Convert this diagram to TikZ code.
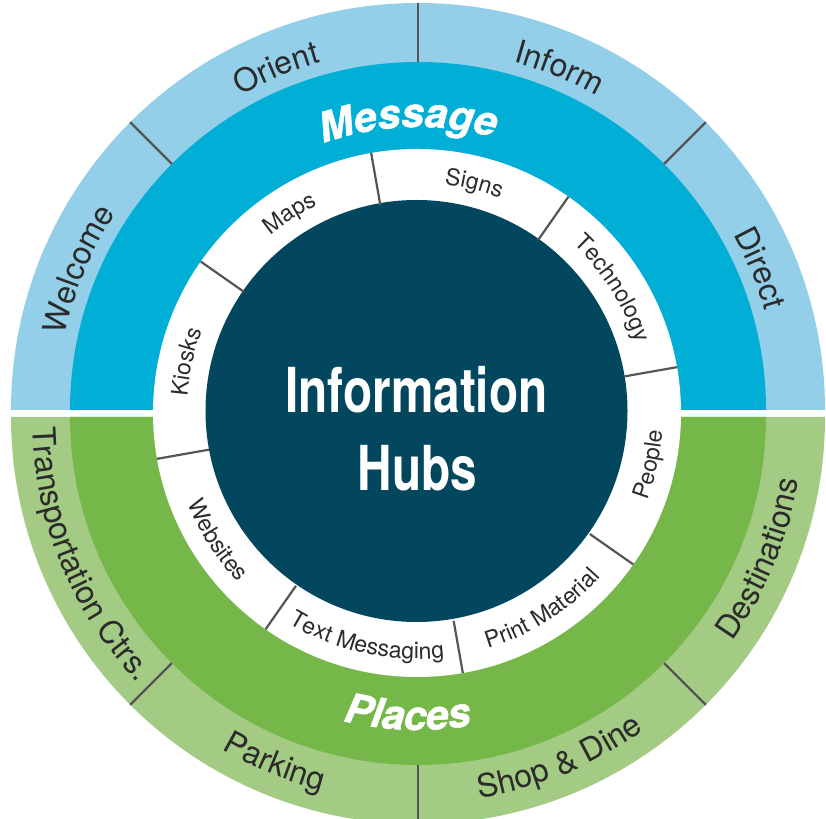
\documentclass[tikz,border=0pt]{standalone}
\usepackage{fontspec}
\setmainfont{TeX Gyre Heros}
\newfontfamily\herosfam{TeX Gyre Heros}
\newfontfamily\herosheavy[FakeBold=1.2]{TeX Gyre Heros}
\newfontfamily\heroscnfam[FakeStretch=0.77]{TeX Gyre Heros}
\usetikzlibrary{decorations.text}
\definecolor{lblue}{HTML}{93CFE8}
\definecolor{mblue}{HTML}{00AED6}
\definecolor{lgreen}{HTML}{A3CB84}
\definecolor{mgreen}{HTML}{76B74A}
\definecolor{navy}{HTML}{02475E}
\definecolor{divcol}{HTML}{555555}
\definecolor{txtcol}{HTML}{2B2B2B}
\newcommand\outerlabfont{\herosfam\fontsize{32}{32}\selectfont\color{txtcol}}
\newcommand\innerlabfont{\herosfam\fontsize{23}{23}\selectfont\color{txtcol}}
\newcommand\ringlabfont{\herosheavy\bfseries\itshape\fontsize{41}{41}\selectfont\color{white}}
\newcommand\hubfont{\heroscnfam\bfseries\fontsize{62}{62}\selectfont}
\tikzset{
  divline/.style={draw=divcol, line width=2.2pt},
  hubtext/.style={text=white, font=\hubfont, inner sep=0pt, anchor=base},
  curvetext/.style={decorate, decoration={text along path, text align=center, text={#1}}}
}
\begin{document}
\begin{tikzpicture}[x=1pt,y=1pt]
\useasboundingbox (0,0) rectangle (826,818);
\clip (0,0) rectangle (826,818);
\coordinate (ct) at (418,408);
\coordinate (cb) at (418,401);
\coordinate (ci) at (417,405);
\coordinate (cn) at (416.5,407);
% top half
\fill[lblue] ([shift={(0:407)}]ct) arc[start angle=0,end angle=180,radius=407] -- cycle;
\fill[mblue] ([shift={(0:348)}]ct) arc[start angle=0,end angle=180,radius=348] -- cycle;
% bottom half
\fill[lgreen] ([shift={(180:407)}]cb) arc[start angle=180,end angle=360,radius=407] -- cycle;
\fill[mgreen] ([shift={(180:348)}]cb) arc[start angle=180,end angle=360,radius=348] -- cycle;
% white ring and hub
\fill[white] (ci) circle[radius=264];
\fill[navy] (cn) circle[radius=211];
% outer dividers
\foreach \a in {45,90,135} \draw[divline] ([shift={(\a:348)}]ct) -- ([shift={(\a:407)}]ct);
\foreach \a in {225,270,315} \draw[divline] ([shift={(\a:348)}]cb) -- ([shift={(\a:407)}]cb);
% inner dividers
\foreach \a in {10,55,100,145,190,235,280,325} \draw[divline] ([shift={(\a:211)}]ci) -- ([shift={(\a:264)}]ci);
% outer labels (top, clockwise)
\path[curvetext={|\outerlabfont|Welcome}] ([shift={(180:361)}]ct) arc[start angle=180,end angle=135,radius=361];
\path[curvetext={|\outerlabfont|Orient}] ([shift={(135:361)}]ct) arc[start angle=135,end angle=90,radius=361];
\path[curvetext={|\outerlabfont|Inform}] ([shift={(90:361)}]ct) arc[start angle=90,end angle=45,radius=361];
\path[curvetext={|\outerlabfont|Direct}] ([shift={(45:361)}]ct) arc[start angle=45,end angle=0,radius=361];
% outer labels (bottom, counter-clockwise)
\path[curvetext={|\outerlabfont|Transportation Ctrs.}] ([shift={(180:386)}]cb) arc[start angle=180,end angle=225,radius=386];
\path[curvetext={|\outerlabfont|Parking}] ([shift={(225:386)}]cb) arc[start angle=225,end angle=270,radius=386];
\path[curvetext={|\outerlabfont|Shop {\&} Dine}] ([shift={(270:386)}]cb) arc[start angle=270,end angle=315,radius=386];
\path[curvetext={|\outerlabfont|Destinations}] ([shift={(315:386)}]cb) arc[start angle=315,end angle=360,radius=386];
% ring labels
\path[curvetext={|\ringlabfont|Message}] ([shift={(132:283)}]ct) arc[start angle=132,end angle=52,radius=283];
\path[curvetext={|\ringlabfont|Places}] ([shift={(228:313)}]cb) arc[start angle=228,end angle=308,radius=313];
% inner labels (top, clockwise)
\path[curvetext={|\innerlabfont|Technology}] ([shift={(55:230)}]ci) arc[start angle=55,end angle=10,radius=230];
\path[curvetext={|\innerlabfont|Signs}] ([shift={(99:230)}]ci) arc[start angle=99,end angle=53,radius=230];
\path[curvetext={|\innerlabfont|Maps}] ([shift={(145:230)}]ci) arc[start angle=145,end angle=100,radius=230];
\path[curvetext={|\innerlabfont|Kiosks}] ([shift={(190:230)}]ci) arc[start angle=190,end angle=145,radius=230];
% inner labels (bottom, counter-clockwise)
\path[curvetext={|\innerlabfont|Websites}] ([shift={(190:246)}]ci) arc[start angle=190,end angle=235,radius=246];
\path[curvetext={|\innerlabfont|Text Messaging}] ([shift={(235:246)}]ci) arc[start angle=235,end angle=280,radius=246];
\path[curvetext={|\innerlabfont|Print Material}] ([shift={(280:246)}]ci) arc[start angle=280,end angle=325,radius=246];
\path[curvetext={|\innerlabfont|People}] ([shift={(325:246)}]ci) arc[start angle=325,end angle=370,radius=246];
% hub text
\node[hubtext] (hubA) at (416.5,405) {Information};
\node[hubtext] (hubB) at (417.5,327) {Hubs};
\end{tikzpicture}
\end{document}
